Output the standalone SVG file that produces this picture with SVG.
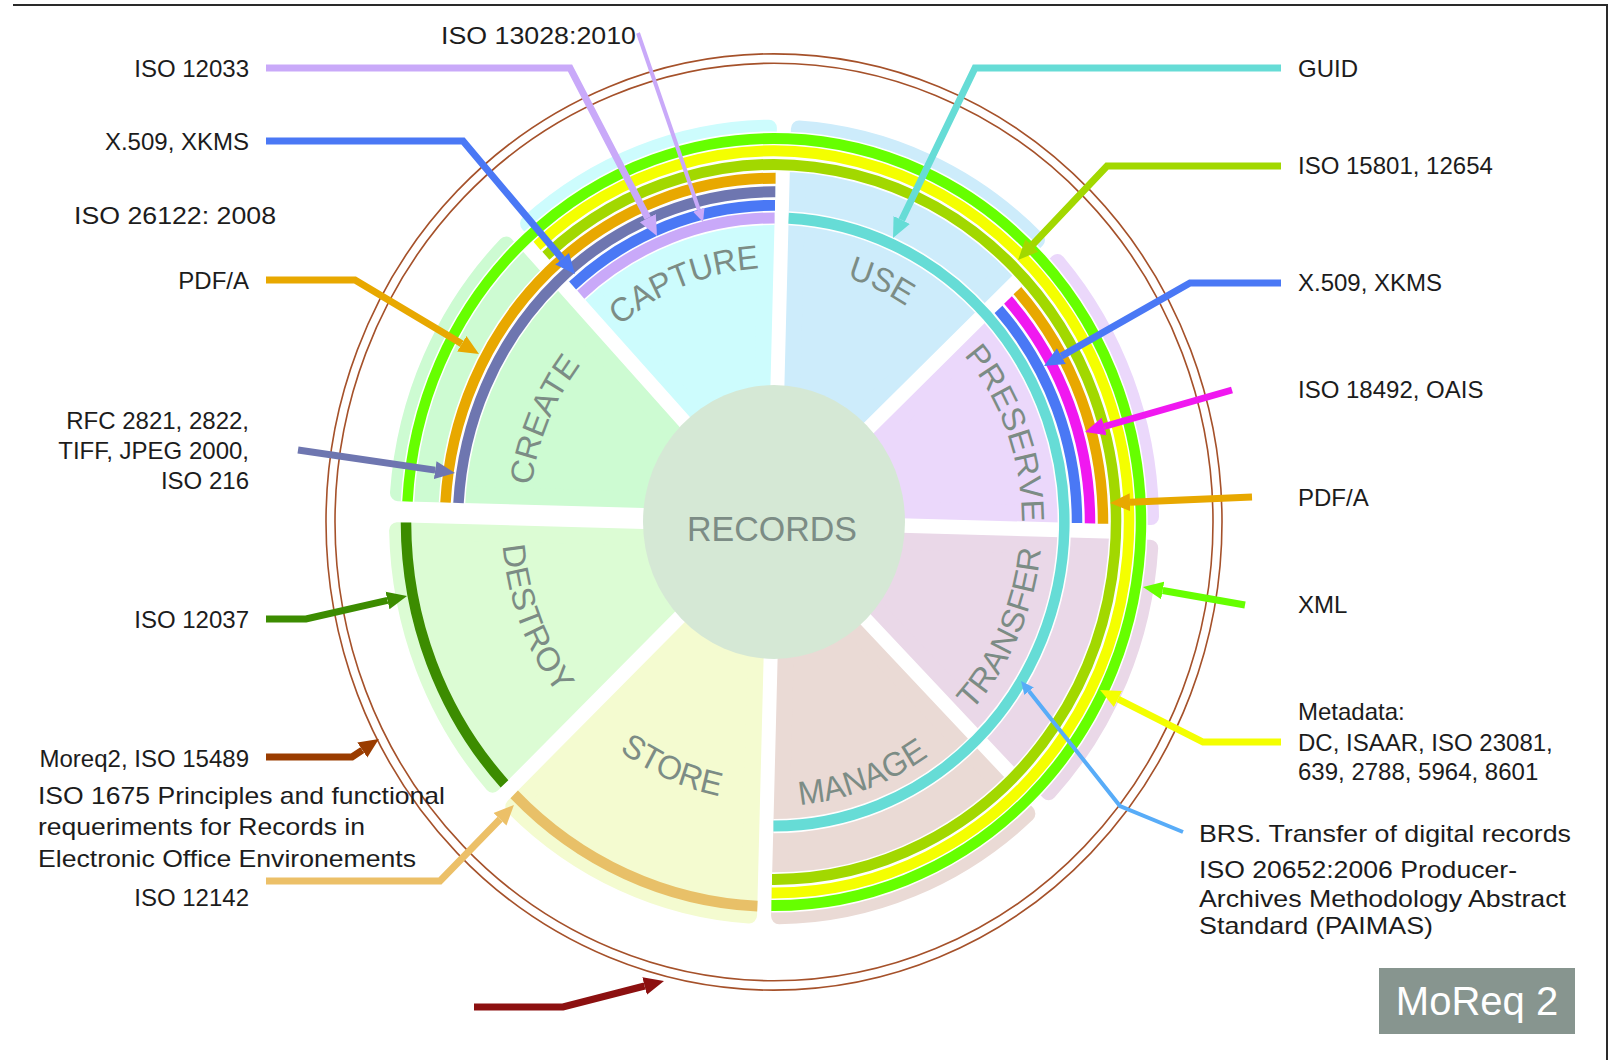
<svg xmlns="http://www.w3.org/2000/svg" width="1615" height="1060" viewBox="0 0 1615 1060">
  <style>
    .lbl { font-family: "Liberation Sans", Arial, sans-serif; font-size: 24px; fill: #1c1c1c; }
    .end { text-anchor: end; }
    .sec { font-family: "Liberation Sans", Arial, sans-serif; font-size: 32px; fill: #7c8c85; text-anchor: middle; }
    .wedge { stroke-width: 16; stroke-linejoin: round; }
    .ring { fill: none; stroke-width: 10.5; }
    .halo { fill: none; stroke: #ffffff; stroke-width: 13.5; }
    .conn { fill: none; stroke-width: 7; stroke-linejoin: miter; }
    .thin { stroke-width: 4; }
    .brown { fill: none; stroke: #a5512a; stroke-width: 1.6; }
  </style>
  <defs>
    <marker id="m-lilac" markerUnits="userSpaceOnUse" viewBox="0 -10 22 20" markerWidth="22" markerHeight="20" refX="0" refY="0" orient="auto"><path d="M0,-9 L20,0 L0,9 Z" fill="#c9a9f9"/></marker>
    <marker id="m-lilac-t" markerUnits="userSpaceOnUse" viewBox="0 -7 15 14" markerWidth="15" markerHeight="14" refX="0" refY="0" orient="auto"><path d="M0,-6 L13,0 L0,6 Z" fill="#c9a9f9"/></marker>
    <marker id="m-blue" markerUnits="userSpaceOnUse" viewBox="0 -10 22 20" markerWidth="22" markerHeight="20" refX="0" refY="0" orient="auto"><path d="M0,-9 L20,0 L0,9 Z" fill="#4a78f5"/></marker>
    <marker id="m-orange" markerUnits="userSpaceOnUse" viewBox="0 -10 22 20" markerWidth="22" markerHeight="20" refX="0" refY="0" orient="auto"><path d="M0,-9 L20,0 L0,9 Z" fill="#e8a800"/></marker>
    <marker id="m-slate" markerUnits="userSpaceOnUse" viewBox="0 -10 22 20" markerWidth="22" markerHeight="20" refX="0" refY="0" orient="auto"><path d="M0,-9 L20,0 L0,9 Z" fill="#6e76b0"/></marker>
    <marker id="m-dgreen" markerUnits="userSpaceOnUse" viewBox="0 -10 22 20" markerWidth="22" markerHeight="20" refX="0" refY="0" orient="auto"><path d="M0,-9 L20,0 L0,9 Z" fill="#3c8c00"/></marker>
    <marker id="m-brown" markerUnits="userSpaceOnUse" viewBox="0 -10 22 20" markerWidth="22" markerHeight="20" refX="0" refY="0" orient="auto"><path d="M0,-9 L20,0 L0,9 Z" fill="#9a3c00"/></marker>
    <marker id="m-tan" markerUnits="userSpaceOnUse" viewBox="0 -10 22 20" markerWidth="22" markerHeight="20" refX="0" refY="0" orient="auto"><path d="M0,-9 L20,0 L0,9 Z" fill="#ecc068"/></marker>
    <marker id="m-dred" markerUnits="userSpaceOnUse" viewBox="0 -10 22 20" markerWidth="22" markerHeight="20" refX="0" refY="0" orient="auto"><path d="M0,-9 L20,0 L0,9 Z" fill="#8c1010"/></marker>
    <marker id="m-teal" markerUnits="userSpaceOnUse" viewBox="0 -10 22 20" markerWidth="22" markerHeight="20" refX="0" refY="0" orient="auto"><path d="M0,-9 L20,0 L0,9 Z" fill="#66dcd6"/></marker>
    <marker id="m-olive" markerUnits="userSpaceOnUse" viewBox="0 -10 22 20" markerWidth="22" markerHeight="20" refX="0" refY="0" orient="auto"><path d="M0,-9 L20,0 L0,9 Z" fill="#a2d800"/></marker>
    <marker id="m-magenta" markerUnits="userSpaceOnUse" viewBox="0 -10 22 20" markerWidth="22" markerHeight="20" refX="0" refY="0" orient="auto"><path d="M0,-9 L20,0 L0,9 Z" fill="#f018f0"/></marker>
    <marker id="m-lime" markerUnits="userSpaceOnUse" viewBox="0 -10 22 20" markerWidth="22" markerHeight="20" refX="0" refY="0" orient="auto"><path d="M0,-9 L20,0 L0,9 Z" fill="#66ff00"/></marker>
    <marker id="m-yellow" markerUnits="userSpaceOnUse" viewBox="0 -10 22 20" markerWidth="22" markerHeight="20" refX="0" refY="0" orient="auto"><path d="M0,-9 L20,0 L0,9 Z" fill="#f4ff00"/></marker>
    <marker id="m-sky-t" markerUnits="userSpaceOnUse" viewBox="0 -7 15 14" markerWidth="15" markerHeight="14" refX="0" refY="0" orient="auto"><path d="M0,-6 L13,0 L0,6 Z" fill="#58acf8"/></marker>

    <!-- arcs the sector names run along (wheel-local coordinates) -->
    <path id="tp-capture" d="M-240.3,-35.9 A243,243 0 0 1 151.3,-190.2"/>
    <path id="tp-use" d="M-140.5,-200.7 A245,245 0 0 1 244.1,-21.4"/>
    <path id="tp-preserve" d="M43.1,-244.2 A248,248 0 0 1 190.0,159.4"/>
    <path id="tp-create" d="M-195.7,147.4 A245,245 0 0 1 -29.9,-243.2"/>
    <path id="tp-transfer" d="M28.0,266.5 A268,268 0 0 0 216.8,-157.5"/>
    <path id="tp-manage" d="M-174.8,208.4 A272,272 0 0 0 267.9,47.2"/>
    <path id="tp-store" d="M-266.3,30.3 A268,268 0 0 0 159.4,215.4"/>
    <path id="tp-destroy" d="M-211.4,-171.2 A272,272 0 0 0 -42.5,268.7"/>
  </defs>

  <rect x="0" y="0" width="1615" height="1060" fill="#ffffff"/>

  <!-- page frame -->
  <g id="frame" stroke="#2a2a2a" stroke-width="2" fill="none">
    <path d="M13,5 H1607 V1060"/>
  </g>

  <!-- the records life-cycle wheel -->
  <g id="wheel" transform="translate(774,522) scale(1,1.045)">
    <g id="boundary">
      <circle class="brown" r="448"/>
      <circle class="brown" r="439"/>
    </g>

    <g id="sector-use"><path class="wedge" fill="#cdecfb" stroke="#cdecfb" d="M15.9,-35.8 L24.9,-376.2 A377,377 0 0 1 263.0,-270.2 Z"/></g>
    <g id="sector-preserve"><path class="wedge" fill="#ebd8fb" stroke="#ebd8fb" d="M36.6,-14.0 L283.5,-248.4 A377,377 0 0 1 377.0,-5.1 Z"/></g>
    <g id="sector-transfer"><path class="wedge" fill="#ead8e8" stroke="#ead8e8" d="M36.7,15.9 L376.2,24.9 A377,377 0 0 1 274.7,258.2 Z"/></g>
    <g id="sector-manage"><path class="wedge" fill="#eadad5" stroke="#eadad5" d="M14.1,35.7 L253.4,279.1 A377,377 0 0 1 5.1,377.0 Z"/></g>
    <g id="sector-store"><path class="wedge" fill="#f4fbd0" stroke="#f4fbd0" d="M-15.9,36.2 L-24.9,376.2 A377,377 0 0 1 -260.7,272.4 Z"/></g>
    <g id="sector-destroy"><path class="wedge" fill="#dcfcd4" stroke="#dcfcd4" d="M-39.2,17.0 L-281.4,251.0 A377,377 0 0 1 -376.9,8.2 Z"/></g>
    <g id="sector-create"><path class="wedge" fill="#cdfbd2" stroke="#cdfbd2" d="M-38.2,-19.0 L-376.0,-27.9 A377,377 0 0 1 -267.9,-265.2 Z"/></g>
    <g id="sector-capture"><path class="wedge" fill="#cdfcfd" stroke="#cdfcfd" d="M-14.0,-37.0 L-245.9,-285.7 A377,377 0 0 1 -5.1,-377.0 Z"/></g>

    <!-- standards bands -->
    <g id="bands">
      <path class="halo" d="M-366.5,-19.6 A367,367 0 1 1 -2.6,367.0"/>
      <path class="halo" d="M-237.0,-264.3 A355,355 0 1 1 -2.3,355.0"/>
      <path class="halo" d="M-228.1,-254.8 A342,342 0 1 1 -2.0,342.0"/>
      <path class="halo" d="M-328.5,-18.6 A329,329 0 0 1 1.6,-329.0"/>
      <path class="halo" d="M-315.5,-18.2 A316,316 0 0 1 1.3,-316.0"/>
      <path class="halo" d="M-201.4,-226.3 A303,303 0 0 1 1.0,-303.0"/>
      <path class="halo" d="M-193.2,-217.6 A291,291 0 0 1 0.6,-291.0"/>
      <path class="halo" d="M14.6,-290.6 A291,291 0 0 1 -0.6,291.0"/>
      <path class="halo" d="M224.5,-203.5 A303,303 0 0 1 303.0,1.0"/>
      <path class="halo" d="M234.0,-212.4 A316,316 0 0 1 316.0,1.3"/>
      <path class="halo" d="M243.4,-221.4 A329,329 0 0 1 329.0,1.6"/>

      <path id="band-xml" class="ring" stroke="#66ff00" d="M-366.5,-19.6 A367,367 0 1 1 -2.6,367.0"/>
      <path id="band-metadata" class="ring" stroke="#f4ff00" d="M-237.0,-264.3 A355,355 0 1 1 -2.3,355.0"/>
      <path id="band-iso15801" class="ring" stroke="#a2d800" d="M-228.1,-254.8 A342,342 0 1 1 -2.0,342.0"/>
      <path id="band-pdfa-a" class="ring" stroke="#e8a800" d="M-328.5,-18.6 A329,329 0 0 1 1.6,-329.0"/>
      <path id="band-rfc" class="ring" stroke="#6e76b0" d="M-315.5,-18.2 A316,316 0 0 1 1.3,-316.0"/>
      <path id="band-x509-a" class="ring" stroke="#4a78f5" d="M-201.4,-226.3 A303,303 0 0 1 1.0,-303.0"/>
      <path id="band-iso12033" class="ring" stroke="#c9a9f9" d="M-193.2,-217.6 A291,291 0 0 1 0.6,-291.0"/>
      <path id="band-guid" class="ring" stroke="#66dcd6" d="M14.6,-290.6 A291,291 0 0 1 -0.6,291.0"/>
      <path id="band-x509-b" class="ring" stroke="#4a78f5" d="M224.5,-203.5 A303,303 0 0 1 303.0,1.0"/>
      <path id="band-oais" class="ring" stroke="#f018f0" d="M234.0,-212.4 A316,316 0 0 1 316.0,1.3"/>
      <path id="band-pdfa-b" class="ring" stroke="#e8a800" d="M243.4,-221.4 A329,329 0 0 1 329.0,1.6"/>
      <path id="band-iso12037" class="ring" stroke="#3c8c00" d="M-269.5,250.6 A368,368 0 0 1 -368.0,0.4"/>
      <path id="band-iso12142" class="ring" stroke="#e8c068" stroke-width="12" d="M-16.6,367.6 A368,368 0 0 1 -259.8,260.6"/>
    </g>

    <g id="records"><circle r="131" fill="#d5e8d5"/><text class="sec" x="-2" y="18" style="font-size:34px">RECORDS</text></g>

    <g id="sector-names">
      <text class="sec"><textPath href="#tp-capture" startOffset="50%">CAPTURE</textPath></text>
      <text class="sec"><textPath href="#tp-use" startOffset="50%">USE</textPath></text>
      <text class="sec"><textPath href="#tp-preserve" startOffset="50%">PRESERVE</textPath></text>
      <text class="sec"><textPath href="#tp-transfer" startOffset="50%">TRANSFER</textPath></text>
      <text class="sec"><textPath href="#tp-manage" startOffset="50%">MANAGE</textPath></text>
      <text class="sec"><textPath href="#tp-store" startOffset="50%">STORE</textPath></text>
      <text class="sec"><textPath href="#tp-destroy" startOffset="50%">DESTROY</textPath></text>
      <text class="sec"><textPath href="#tp-create" startOffset="50%">CREATE</textPath></text>
    </g>
  </g>

  <!-- leader arrows from the standards to their bands -->
  <g id="connectors">
    <path class="conn" stroke="#c9a9f9" marker-end="url(#m-lilac)" d="M266,68 H570 L647.8,218.2"/>
    <path class="conn thin" stroke="#c9a9f9" marker-end="url(#m-lilac-t)" d="M638,33 L698.8,209.7"/>
    <path class="conn" stroke="#4a78f5" marker-end="url(#m-blue)" d="M266,141 H463 L562.1,258.7"/>
    <path class="conn" stroke="#e8a800" marker-end="url(#m-orange)" d="M266,280 H355 L461.8,343.8"/>
    <path class="conn" stroke="#6e76b0" marker-end="url(#m-slate)" d="M298,450 L435.2,470.1"/>
    <path class="conn" stroke="#3c8c00" marker-end="url(#m-dgreen)" d="M266,619 H306 L387.5,600.4"/>
    <path class="conn" stroke="#9a3c00" marker-end="url(#m-brown)" d="M266,757 H352 L362.3,750.1"/>
    <path class="conn" stroke="#ecc068" marker-end="url(#m-tan)" d="M266,881 H440 L500,819.3"/>
    <path class="conn" stroke="#8c1010" stroke-width="6" marker-end="url(#m-dred)" d="M474,1007 H563 L644.6,986"/>
    <path class="conn" stroke="#66dcd6" marker-end="url(#m-teal)" d="M1281,68 H975 L901.7,220"/>
    <path class="conn" stroke="#a2d800" marker-end="url(#m-olive)" d="M1281,166 H1107 L1031.8,245.5"/>
    <path class="conn" stroke="#4a78f5" marker-end="url(#m-blue)" d="M1281,283 H1190 L1061.4,356.1"/>
    <path class="conn" stroke="#f018f0" marker-end="url(#m-magenta)" d="M1232,390 L1104.2,426.5"/>
    <path class="conn" stroke="#e8a800" marker-end="url(#m-orange)" d="M1252,497 L1130,502.2"/>
    <path class="conn" stroke="#66ff00" marker-end="url(#m-lime)" d="M1245,605 L1162.7,590.5"/>
    <path class="conn" stroke="#f4ff00" marker-end="url(#m-yellow)" d="M1281,742 H1203 L1117.9,699"/>
    <path class="conn thin" stroke="#58acf8" marker-end="url(#m-sky-t)" d="M1183,832 L1120,806 L1029.1,691.2"/>
  </g>

  <!-- standards labels, left -->
  <g id="lbl-iso13028"><text class="lbl" x="441" y="44" textLength="195" lengthAdjust="spacingAndGlyphs">ISO 13028:2010</text></g>
  <g id="lbl-iso12033"><text class="lbl end" x="249" y="77">ISO 12033</text></g>
  <g id="lbl-x509-left"><text class="lbl end" x="249" y="150">X.509, XKMS</text></g>
  <g id="lbl-iso26122"><text class="lbl" x="74" y="224" textLength="202" lengthAdjust="spacingAndGlyphs">ISO 26122: 2008</text></g>
  <g id="lbl-pdfa-left"><text class="lbl end" x="249" y="289">PDF/A</text></g>
  <g id="lbl-rfc"><text class="lbl end" x="249" y="429">RFC 2821, 2822,</text><text class="lbl end" x="249" y="459">TIFF, JPEG 2000,</text><text class="lbl end" x="249" y="489">ISO 216</text></g>
  <g id="lbl-iso12037"><text class="lbl end" x="249" y="628">ISO 12037</text></g>
  <g id="lbl-moreq2"><text class="lbl end" x="249" y="767">Moreq2, ISO 15489</text></g>
  <g id="lbl-iso1675">
    <text class="lbl" x="38" y="804" textLength="407" lengthAdjust="spacingAndGlyphs">ISO 1675 Principles and functional</text>
    <text class="lbl" x="38" y="835" textLength="327" lengthAdjust="spacingAndGlyphs">requeriments for Records in</text>
    <text class="lbl" x="38" y="867" textLength="378" lengthAdjust="spacingAndGlyphs">Electronic Office Environements</text>
  </g>
  <g id="lbl-iso12142"><text class="lbl end" x="249" y="906">ISO 12142</text></g>

  <!-- standards labels, right -->
  <g id="lbl-guid"><text class="lbl" x="1298" y="77">GUID</text></g>
  <g id="lbl-iso15801"><text class="lbl" x="1298" y="174">ISO 15801, 12654</text></g>
  <g id="lbl-x509-right"><text class="lbl" x="1298" y="291">X.509, XKMS</text></g>
  <g id="lbl-iso18492"><text class="lbl" x="1298" y="398">ISO 18492, OAIS</text></g>
  <g id="lbl-pdfa-right"><text class="lbl" x="1298" y="506">PDF/A</text></g>
  <g id="lbl-xml"><text class="lbl" x="1298" y="613">XML</text></g>
  <g id="lbl-metadata"><text class="lbl" x="1298" y="720">Metadata:</text><text class="lbl" x="1298" y="751">DC, ISAAR, ISO 23081,</text><text class="lbl" x="1298" y="780">639, 2788, 5964, 8601</text></g>
  <g id="lbl-brs"><text class="lbl" x="1199" y="842" textLength="372" lengthAdjust="spacingAndGlyphs">BRS. Transfer of digital records</text></g>
  <g id="lbl-paimas">
    <text class="lbl" x="1199" y="878" textLength="318" lengthAdjust="spacingAndGlyphs">ISO 20652:2006 Producer-</text>
    <text class="lbl" x="1199" y="907" textLength="367" lengthAdjust="spacingAndGlyphs">Archives Methodology Abstract</text>
    <text class="lbl" x="1199" y="934" textLength="234" lengthAdjust="spacingAndGlyphs">Standard (PAIMAS)</text>
  </g>

  <g id="badge">
    <rect x="1379" y="968" width="196" height="66" fill="#87958f"/>
    <text x="1477" y="1015" style="font-family:'Liberation Sans', Arial, sans-serif; font-size:40px; fill:#ffffff; text-anchor:middle">MoReq 2</text>
  </g>
</svg>
